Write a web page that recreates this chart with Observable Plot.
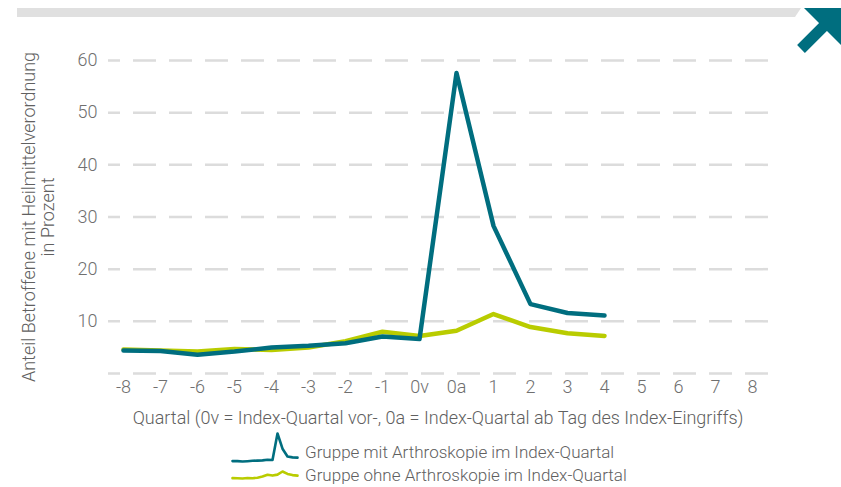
<!DOCTYPE html>
<html>
<head>
<meta charset="utf-8">
<script src="https://cdn.jsdelivr.net/npm/d3@7"></script>
<script src="https://cdn.jsdelivr.net/npm/@observablehq/plot@0.6"></script>
<style>
  html, body { margin: 0; padding: 0; background: #fff; }
  body { width: 841px; height: 487px; position: relative; overflow: hidden; font-family: Roboto, "Noto Sans", sans-serif; font-weight: 300; }
  #deco { position: absolute; left: 0; top: 0; }
  .leg { position: absolute; }
  .legtext { position: absolute; font-size: 17px; line-height: 17px; color: #606060; white-space: nowrap; }
</style>
</head>
<body>
<div id="chart"></div>
<svg id="deco" width="841" height="60">
  <polygon points="17,8 801,8 795,17 17,17" fill="#e0e0e0"/>
  <polygon points="804,8 841,8 841,45" fill="#006e7f"/>
  <line x1="801" y1="49" x2="830" y2="20" stroke="#006e7f" stroke-width="11"/>
</svg>
<div id="legend"></div>
<script>
const quarters = ["-8","-7","-6","-5","-4","-3","-2","-1","0v","0a","1","2","3","4","5","6","7","8"];
const dataQuarters = ["-8","-7","-6","-5","-4","-3","-2","-1","0v","0a","1","2","3","4"];
const mitArthro = [4.4, 4.3, 3.6, 4.2, 5.0, 5.3, 5.8, 7.1, 6.6, 57.6, 28.3, 13.3, 11.6, 11.1];
const ohneArthro = [4.6, 4.4, 4.2, 4.7, 4.5, 5.0, 6.2, 8.0, 7.2, 8.2, 11.4, 8.9, 7.7, 7.2];
const yTicks = [0, 10, 20, 30, 40, 50, 60];
const yTickLabels = [10, 20, 30, 40, 50, 60];
const seriesNames = ["Gruppe mit Arthroskopie im Index-Quartal", "Gruppe ohne Arthroskopie im Index-Quartal"];
const colors = ["#006e7f", "#b9cc00"];
const xTitle = "Quartal (0v = Index-Quartal vor-, 0a = Index-Quartal ab Tag des Index-Eingriffs)";
const yTitle = "Anteil Betroffene mit Heilmittelverordnung\nin Prozent";

const rows = [];
dataQuarters.forEach((q, i) => {
  rows.push({q, v: mitArthro[i], s: seriesNames[0]});
  rows.push({q, v: ohneArthro[i], s: seriesNames[1]});
});
const mitRows = rows.filter(d => d.s === seriesNames[0]);
const ohneRows = rows.filter(d => d.s === seriesNames[1]);

const chart = Plot.plot({
  width: 841,
  height: 428,
  marginLeft: 115,
  marginRight: 81,
  marginTop: 60,
  marginBottom: 55,
  style: { fontFamily: "Roboto, sans-serif", fontWeight: 300, fontSize: "18px", color: "#6f6f6f", background: "transparent" },
  x: { type: "point", domain: quarters, padding: 0, label: null, tickSize: 0, tickPadding: 7 },
  y: { domain: [0, 60], label: null, ticks: yTickLabels, tickSize: 0, tickPadding: 18 },
  marks: [
    Plot.ruleY(yTicks, { stroke: "#dcdcdc", strokeWidth: 2.5, strokeDasharray: "23,13", strokeDashoffset: 11, insetLeft: -7, insetRight: -15 }),
    Plot.line(ohneRows, { x: "q", y: "v", stroke: colors[1], strokeWidth: 4.5 }),
    Plot.line(mitRows, { x: "q", y: "v", stroke: colors[0], strokeWidth: 4.5 }),
    Plot.text([xTitle], { frameAnchor: "bottom", dy: 45, text: d => d, fontSize: 18, fill: "#606060", lineAnchor: "middle" }),
    Plot.text([yTitle], { frameAnchor: "left", dx: -77, rotate: -90, text: d => d, fontSize: 18, fill: "#606060", textAnchor: "middle", lineAnchor: "middle", lineHeight: 1.05 })
  ]
});
document.getElementById("chart").appendChild(chart);

function icon(data, color, w, h) {
  return Plot.plot({
    width: w, height: h, margin: 3,
    axis: null,
    style: { background: "transparent" },
    x: { type: "point", domain: dataQuarters, padding: 0 },
    y: { domain: [d3.min(data, d => d.v), d3.max(data, d => d.v)] },
    marks: [Plot.line(data, { x: "q", y: "v", stroke: color, strokeWidth: 2.6 })]
  });
}
const legend = document.getElementById("legend");
const legendLayout = [
  { data: mitRows, i: 0, iconTop: 430, iconH: 34, textTop: 444 },
  { data: ohneRows, i: 1, iconTop: 468, iconH: 13, textTop: 467 }
];
legendLayout.forEach(o => {
  const ic = icon(o.data, colors[o.i], 81, o.iconH);
  ic.classList.add("leg");
  ic.style.left = "224px";
  ic.style.top = o.iconTop + "px";
  legend.appendChild(ic);
  const span = document.createElement("div");
  span.className = "legtext";
  span.style.left = "305px";
  span.style.top = o.textTop + "px";
  span.textContent = seriesNames[o.i];
  legend.appendChild(span);
});
</script>
</body>
</html>
